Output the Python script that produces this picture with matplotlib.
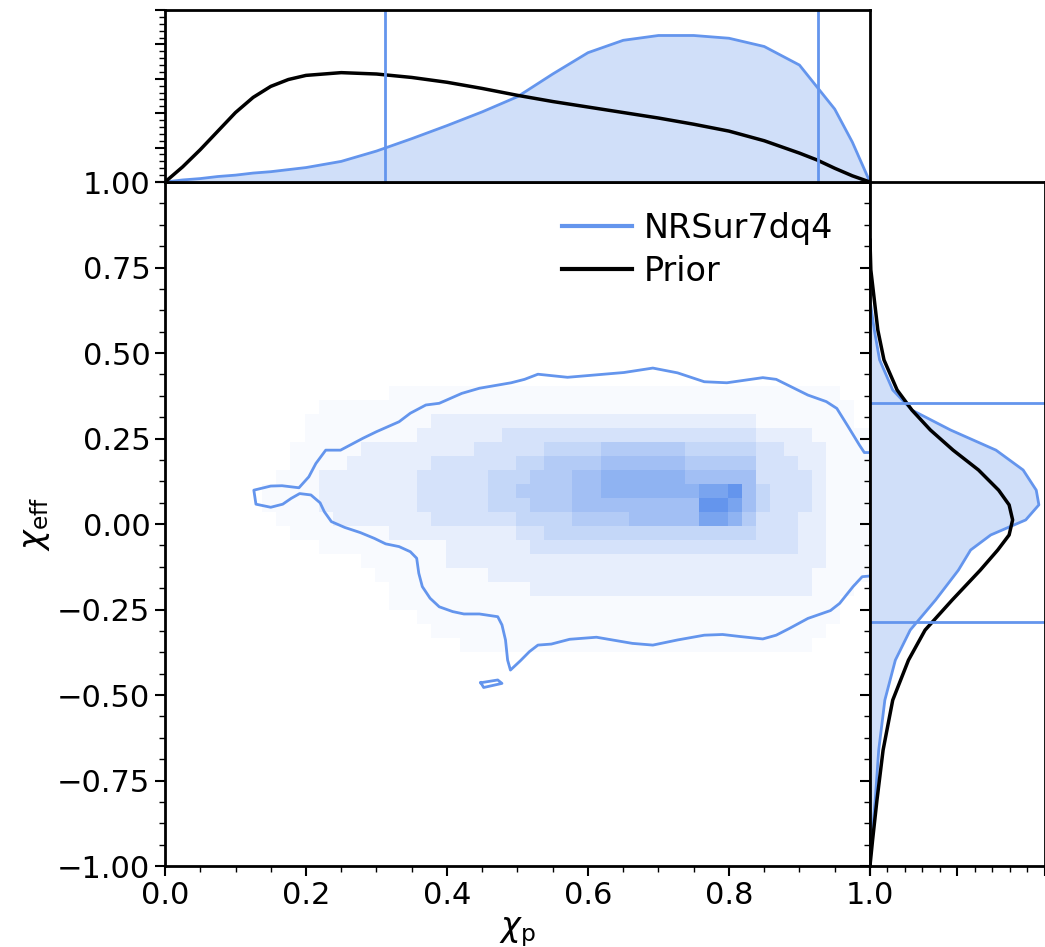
import matplotlib
matplotlib.use("Agg")
import matplotlib.pyplot as plt
import numpy as np
from matplotlib.colors import LinearSegmentedColormap
from matplotlib.ticker import MultipleLocator

COLOR = "cornflowerblue"

# 2D posterior histogram of (chi_p, chi_eff): intensity level 0-9 per bin,
# rows from top (chi_eff ~ 0.48) to bottom (chi_eff ~ -0.50), 49 columns in chi_p
hist_levels = [
    "000000000 000 0000 0000 000 000 0000 000 0000 000 0 000000 00",
    "000000000 000 0000 0000 000 000 0000 000 0000 000 0 000000 00",
    "000000000 000 0001 1111 111 111 1111 111 1111 111 1 111111 00",
    "000000000 011 1111 1111 111 111 1111 111 1111 111 1 111111 10",
    "000000000 111 1111 1122 222 222 2222 222 2222 222 2 111111 10",
    "000000000 111 1111 1222 222 333 3333 333 3333 333 3 222211 11",
    "000000001 111 1222 2222 233 333 4444 555 5554 444 4 332221 11",
    "000000001 111 2222 2233 333 344 5555 666 6665 555 5 333221 11",
    "000000011 122 2222 2333 334 445 5566 777 7776 666 6 333321 11",
    "000000111 122 2222 2333 334 455 5566 777 7777 889 6 433321 11",
    "000000111 122 2222 2333 334 445 5566 666 6666 998 6 433321 11",
    "000000011 112 2222 2233 333 344 4455 556 6666 887 5 333221 11",
    "000000001 111 1112 2222 222 233 4444 444 4444 444 4 333221 11",
    "000000000 011 1111 1112 222 223 3333 333 3333 333 3 333221 11",
    "000000000 000 0111 1112 222 222 2222 222 2222 222 2 222221 11",
    "000000000 000 0011 1111 112 222 2222 222 2222 222 2 222211 11",
    "000000000 000 0001 1111 111 112 2222 222 2222 222 2 222211 10",
    "000000000 000 0001 1111 111 111 1111 111 1111 111 1 111111 00",
    "000000000 000 0000 0111 111 111 1111 111 1111 111 1 111111 00",
    "000000000 000 0000 0011 111 111 1111 111 1111 111 1 111110 00",
    "000000000 000 0000 0000 111 111 1111 111 1111 111 1 111100 00",
    "000000000 000 0000 0000 000 000 0000 000 0000 000 0 000000 00",
    "000000000 000 0000 0000 000 000 0000 000 0000 000 0 000000 00",
    "000000000 000 0000 0000 000 000 0000 000 0000 000 0 000000 00",
]
level_shade = [0.0, 0.05, 0.16, 0.27, 0.38, 0.49, 0.60, 0.72, 0.86, 1.0]
hist_xedges = np.linspace(0.018, 0.998, 50)
hist_yedges = np.linspace(-0.496, 0.484, 25)

# 90% credible contour
contour_x = [1.0, 0.992, 0.985, 0.969, 0.953, 0.938, 0.912, 0.867, 0.848, 0.797,
             0.765, 0.727, 0.692, 0.651, 0.571, 0.529, 0.510, 0.491, 0.446, 0.421,
             0.389, 0.370, 0.348, 0.332, 0.300, 0.281, 0.249, 0.228, 0.214, 0.204,
             0.190, 0.166, 0.150, 0.126, 0.129, 0.150, 0.167, 0.179, 0.191, 0.207,
             0.220, 0.226, 0.236, 0.255, 0.277, 0.297, 0.313, 0.332, 0.348, 0.357,
             0.360, 0.365, 0.376, 0.389, 0.408, 0.424, 0.446, 0.472, 0.478, 0.483,
             0.486, 0.490, 0.504, 0.517, 0.529, 0.548, 0.574, 0.612, 0.663, 0.692,
             0.727, 0.765, 0.791, 0.816, 0.848, 0.867, 0.886, 0.912, 0.944, 0.957,
             0.976, 0.989, 1.0]
contour_y = [0.209, 0.209, 0.231, 0.285, 0.338, 0.358, 0.377, 0.423, 0.428, 0.413,
             0.416, 0.442, 0.456, 0.443, 0.429, 0.438, 0.423, 0.413, 0.397, 0.382,
             0.353, 0.348, 0.324, 0.299, 0.270, 0.251, 0.216, 0.216, 0.177, 0.138,
             0.106, 0.112, 0.111, 0.099, 0.058, 0.049, 0.058, 0.075, 0.089, 0.085,
             0.062, 0.036, 0.007, -0.010, -0.025, -0.042, -0.058, -0.066, -0.081, -0.100,
             -0.144, -0.183, -0.217, -0.242, -0.256, -0.263, -0.263, -0.271, -0.295, -0.339,
             -0.398, -0.427, -0.400, -0.373, -0.354, -0.351, -0.337, -0.331, -0.349, -0.354,
             -0.339, -0.325, -0.323, -0.329, -0.336, -0.325, -0.305, -0.276, -0.253, -0.232,
             -0.183, -0.154, -0.152]
island_x = [0.448, 0.472, 0.478, 0.452, 0.448]
island_y = [-0.464, -0.456, -0.466, -0.478, -0.464]

# marginal of chi_p
chi_p = [0.0, 0.025, 0.05, 0.075, 0.10, 0.125, 0.15, 0.175, 0.20, 0.25, 0.30,
         0.35, 0.40, 0.45, 0.50, 0.55, 0.60, 0.65, 0.70, 0.75, 0.80, 0.85,
         0.90, 0.925, 0.95, 0.975, 1.0]
chi_p_prior = [0.0, 0.22, 0.47, 0.74, 1.01, 1.23, 1.39, 1.49, 1.55, 1.59, 1.57,
               1.52, 1.45, 1.36, 1.26, 1.17, 1.09, 1.01, 0.93, 0.84, 0.74, 0.60,
               0.42, 0.32, 0.20, 0.09, 0.0]
chi_p_post = [0.0, 0.03, 0.05, 0.08, 0.10, 0.13, 0.15, 0.18, 0.21, 0.30, 0.45,
              0.63, 0.82, 1.02, 1.24, 1.57, 1.88, 2.06, 2.13, 2.13, 2.09, 1.97,
              1.70, 1.38, 1.06, 0.58, 0.0]
chi_p_bounds = [0.312, 0.926]

# marginal of chi_eff
chi_eff = [-1.0, -0.924, -0.807, -0.661, -0.515, -0.398, -0.31, -0.222, -0.135,
           -0.076, -0.032, 0.012, 0.056, 0.099, 0.158, 0.216, 0.275, 0.333,
           0.392, 0.48, 0.567, 0.655, 0.743, 0.83]
chi_eff_prior = [0.0, 0.03, 0.08, 0.15, 0.26, 0.44, 0.63, 0.94, 1.26, 1.46, 1.59,
                 1.63, 1.59, 1.47, 1.24, 0.95, 0.69, 0.48, 0.31, 0.16, 0.09, 0.05,
                 0.01, 0.0]
chi_eff_post = [0.0, 0.02, 0.06, 0.10, 0.17, 0.29, 0.46, 0.75, 1.01, 1.15, 1.38,
                1.78, 1.93, 1.90, 1.75, 1.44, 0.92, 0.48, 0.26, 0.11, 0.05, 0.0,
                0.0, 0.0]
chi_eff_bounds = [-0.287, 0.354]

plt.rcParams["axes.linewidth"] = 2

fig = plt.figure(figsize=(10.45, 9.47), dpi=100)
ax = fig.add_axes([0.1579, 0.0855, 0.6746, 0.7223])
ax_top = fig.add_axes([0.1579, 0.8078, 0.6746, 0.1816])
ax_right = fig.add_axes([0.8325, 0.0855, 0.1675, 0.7223])

# main panel: histogram, contour and legend
levels = np.array([[int(c) for c in row.replace(" ", "")] for row in hist_levels])[::-1]
shade = np.ma.masked_less_equal(np.array(level_shade)[levels], 0.0)
cmap = LinearSegmentedColormap.from_list("white_blue", ["white", COLOR])
ax.pcolormesh(hist_xedges, hist_yedges, shade, cmap=cmap, vmin=0, vmax=1,
              edgecolors="none", antialiased=True)
ax.plot(contour_x, contour_y, color=COLOR, lw=2)
ax.plot(island_x, island_y, color=COLOR, lw=2)
ax.plot([], [], color=COLOR, lw=3, label="NRSur7dq4")
ax.plot([], [], color="black", lw=3, label="Prior")
ax.legend(loc="upper right", frameon=False, fontsize=24, handlelength=2.1,
          handletextpad=0.35, labelspacing=0.3, bbox_to_anchor=(0.99, 1.0))
ax.set_xlim(0, 1)
ax.set_ylim(-1, 1)
ax.xaxis.set_major_locator(MultipleLocator(0.2))
ax.xaxis.set_minor_locator(MultipleLocator(0.05))
ax.yaxis.set_major_locator(MultipleLocator(0.25))
ax.yaxis.set_minor_locator(MultipleLocator(0.0625))
ax.set_xlabel(r"$\chi_{\rm p}$", fontsize=24)
ax.set_ylabel(r"$\chi_{\rm eff}$", fontsize=24)

# top marginal
ax_top.fill_between(chi_p, chi_p_post, color=COLOR, alpha=0.3, lw=0)
ax_top.plot(chi_p, chi_p_post, color=COLOR, lw=2)
ax_top.plot(chi_p, chi_p_prior, color="black", lw=2.5)
for b in chi_p_bounds:
    ax_top.axvline(b, color=COLOR, lw=2)
ax_top.set_xlim(0, 1)
ax_top.set_ylim(0, 2.5)
ax_top.yaxis.set_major_locator(MultipleLocator(0.5))
ax_top.yaxis.set_minor_locator(MultipleLocator(0.1))
ax_top.tick_params(axis="x", which="both", bottom=False, labelbottom=False)
ax_top.tick_params(axis="y", which="both", labelleft=False)

# right marginal
ax_right.fill_betweenx(chi_eff, chi_eff_post, color=COLOR, alpha=0.3, lw=0)
ax_right.plot(chi_eff_post, chi_eff, color=COLOR, lw=2)
ax_right.plot(chi_eff_prior, chi_eff, color="black", lw=2.5)
for b in chi_eff_bounds:
    ax_right.axhline(b, color=COLOR, lw=2)
ax_right.set_ylim(-1, 1)
ax_right.set_xlim(0, 2.0)
ax_right.yaxis.set_major_locator(MultipleLocator(0.25))
ax_right.yaxis.set_minor_locator(MultipleLocator(0.0625))
ax_right.xaxis.set_major_locator(MultipleLocator(1.0))
ax_right.xaxis.set_minor_locator(MultipleLocator(0.2))
ax_right.tick_params(which="both", labelleft=False, labelbottom=False)

for a in (ax, ax_top, ax_right):
    a.tick_params(which="major", direction="out", length=7, width=1.5, labelsize=22)
    a.tick_params(which="minor", direction="out", length=4, width=1)

fig.savefig("out.png", dpi=100)
